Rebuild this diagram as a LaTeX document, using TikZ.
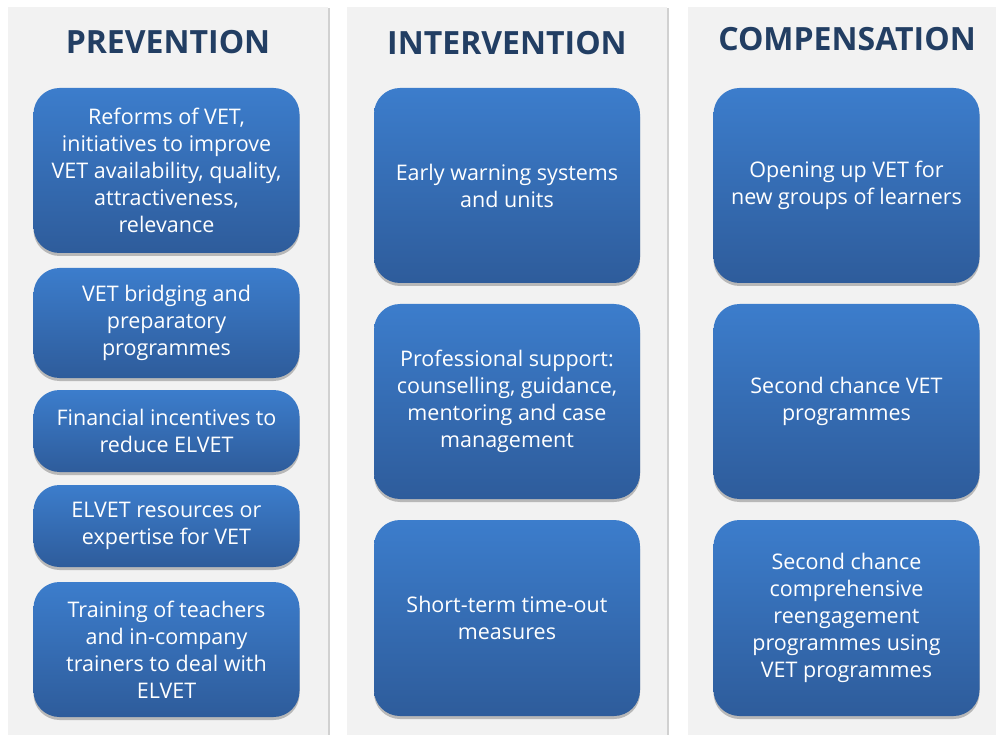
\documentclass[tikz,border=0pt]{standalone}
\usepackage{fontspec}
\setmainfont{Open Sans}
\usetikzlibrary{shadows}

\definecolor{paneltint}{HTML}{F2F2F2}
\definecolor{headblue}{HTML}{223E63}
\definecolor{boxtop}{HTML}{3C7DCC}
\definecolor{boxbot}{HTML}{2E5C9B}

\tikzset{
  panel/.style={fill=paneltint, draw=none,
    drop shadow={shadow xshift=1.5pt, shadow yshift=-1pt, opacity=0.3, fill=black!60}},
  heading/.style={font=\bfseries\fontsize{32}{36}\selectfont, text=headblue, inner sep=0pt},
  measure/.style={rounded corners=26pt, top color=boxtop, bottom color=boxbot, draw=none,
    text=white, align=center, inner sep=0pt, minimum width=266pt,
    font=\fontsize{21.5}{27}\selectfont,
    drop shadow={shadow xshift=0pt, shadow yshift=-3pt, opacity=0.35, fill=black!70}},
}

\begin{document}
\begin{tikzpicture}[x=1pt, y=-1pt]
    \useasboundingbox (0,0) rectangle (996,735);

    % the three columns
    \path [panel] (8,7) rectangle (328,745);
    \path [panel] (347,7) rectangle (667,745);
    \path [panel] (688,7) rectangle (1008,745);

    % headings
    \node [heading] (prevhead) at (168,42) {PREVENTION};
    \node [heading] (intvhead) at (507,43) {INTERVENTION};
    \node [heading] (comphead) at (847,39) {COMPENSATION};

    % prevention
    \node [measure, minimum height=165pt] (prev1) at (166.5,170.5) {Reforms of VET,\\initiatives to improve\\VET availability, quality,\\attractiveness,\\relevance};
    \node [measure, minimum height=110pt] (prev2) at (166.5,323) {VET bridging and\\preparatory\\programmes};
    \node [measure, minimum height=82pt] (prev3) at (166.5,431) {Financial incentives to\\reduce ELVET};
    \node [measure, minimum height=82pt] (prev4) at (166.5,526) {ELVET resources or\\expertise for VET};
    \node [measure, minimum height=135pt] (prev5) at (166.5,649.5) {Training of teachers\\and in-company\\trainers to deal with\\ELVET};

    % intervention
    \node [measure, minimum height=195pt] (intv1) at (507,185.5) {Early warning systems\\and units};
    \node [measure, minimum height=195pt] (intv2) at (507,401.5) {Professional support:\\counselling, guidance,\\mentoring and case\\management};
    \node [measure, minimum height=196pt] (intv3) at (507,618) {Short-term time-out\\measures};

    % compensation
    \node [measure, minimum height=195pt] (comp1) at (846.5,185.5) {Opening up VET for\\new groups of learners};
    \node [measure, minimum height=195pt] (comp2) at (846.5,401.5) {Second chance VET\\programmes};
    \node [measure, minimum height=196pt] (comp3) at (846.5,618) {Second chance\\comprehensive\\reengagement\\programmes using\\VET programmes};
\end{tikzpicture}
\end{document}
